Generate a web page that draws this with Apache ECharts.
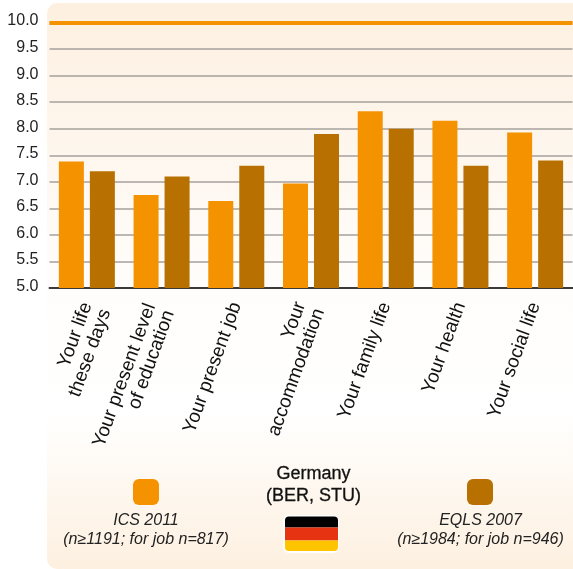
<!DOCTYPE html>
<html><head><meta charset="utf-8">
<style>html,body{margin:0;padding:0;background:#fff}#c{width:573px;height:569px}</style>
<script src="https://cdn.jsdelivr.net/npm/echarts@6/dist/echarts.min.js"></script>
</head><body><div id="c"></div>
<script>
const categories = ["Your life\nthese days","Your present level\nof education","Your present job","Your\naccommodation","Your family life","Your health","Your social life"];
const ics2011 = [7.38,6.75,6.64,6.97,8.33,8.15,7.93];
const eqls2007 = [7.2,7.1,7.3,7.9,8.0,7.3,7.4];
const yTicks = {min:5,max:10,interval:0.5};
const FONT = '"Liberation Sans", Arial, sans-serif';
const ORANGE = '#f49200', BROWN = '#b87000', PANEL = '#fdf0e0';
const labelPadding = [0,[3,5,0,0],0,[0,3,0,0],0,0,0];
const chart = echarts.init(document.getElementById('c'), null, {renderer:'canvas'});
chart.setOption({
  animation:false,
  backgroundColor:'#fff',
  grid:{left:49.5,right:0.5,top:22.5,bottom:281,containLabel:false},
  xAxis:{type:'category',data:categories.map((c,i)=>({value:c,textStyle:{padding:labelPadding[i]}})),
    axisTick:{show:false},
    axisLine:{lineStyle:{color:'#3a3a3a',width:2}},
    axisLabel:{rotate:70,interval:0,color:'#111',fontFamily:FONT,fontSize:19,lineHeight:20,margin:15,align:'right',verticalAlign:'middle',
      formatter:(v,i)=>i===0?'\n'+v:v}},
  yAxis:{type:'value',min:yTicks.min,max:yTicks.max,interval:yTicks.interval,
    axisLine:{show:false},axisTick:{show:false},
    axisLabel:{color:'#222',fontFamily:FONT,fontSize:16,margin:11,verticalAlign:'bottom',lineHeight:3,formatter:v=>v.toFixed(1)},
    splitLine:{lineStyle:{color:'#a5a19c',width:1.5}}},
  series:[
    {name:'ICS 2011',type:'bar',data:ics2011,barWidth:25,barGap:'24%',itemStyle:{color:ORANGE},z:3,
     markLine:{silent:true,symbol:'none',label:{show:false},lineStyle:{color:ORANGE,width:4,type:'solid'},data:[{yAxis:10}]}},
    {name:'EQLS 2007',type:'bar',data:eqls2007,barWidth:25,itemStyle:{color:BROWN},z:3}
  ],
  graphic:[
    {type:'rect',z:-10,silent:true,shape:{x:47,y:3,width:526,height:566,r:[10,0,0,10]},
     style:{fill:new echarts.graphic.LinearGradient(0,0,0,1,[
       {offset:0,color:PANEL},{offset:0.5,color:'#fffdfb'},{offset:0.72,color:'#ffffff'},{offset:1,color:PANEL}])}},
    {type:'rect',shape:{x:133,y:479,width:26,height:26,r:6},style:{fill:ORANGE}},
    {type:'rect',shape:{x:467,y:479,width:26,height:26,r:6},style:{fill:BROWN}},
    {type:'text',x:146,y:511,style:{text:'ICS 2011\n(n≥1191; for job n=817)',fill:'#222',font:'italic 16px '+FONT,lineHeight:19,align:'center'}},
    {type:'text',x:480.5,y:511,style:{text:'EQLS 2007\n(n≥1984; for job n=946)',fill:'#222',font:'italic 16px '+FONT,lineHeight:19,align:'center'}},
    {type:'text',x:313.5,y:463,style:{text:'Germany\n(BER, STU)',fill:'#111',stroke:'#111',lineWidth:0.3,font:'18px '+FONT,lineHeight:22,align:'center'}},
    {type:'rect',shape:{x:283,y:515,width:56,height:38,r:6},style:{fill:'#fff'}},
    {type:'rect',shape:{x:285,y:516.5,width:53,height:11,r:[4,4,0,0]},style:{fill:'#000'}},
    {type:'rect',shape:{x:285,y:527.5,width:53,height:13},style:{fill:'#e63312'}},
    {type:'rect',shape:{x:285,y:540.5,width:53,height:10.5,r:[0,0,4,4]},style:{fill:'#ffc400'}}
  ]
});
</script></body></html>
